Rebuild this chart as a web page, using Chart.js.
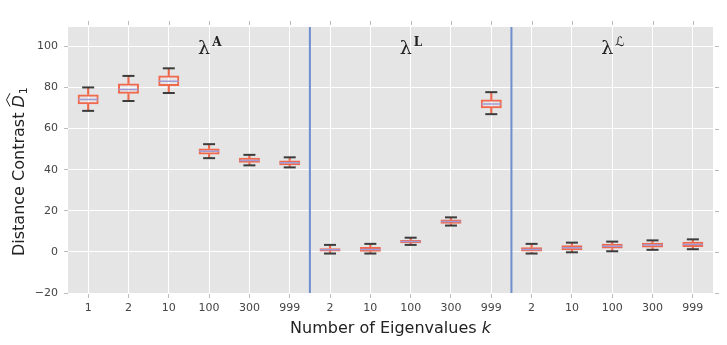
<!DOCTYPE html>
<html>
<head>
<meta charset="utf-8">
<script src="https://cdn.jsdelivr.net/npm/chart.js@4"></script>
<style>
  html, body { margin: 0; padding: 0; background: #fff; }
  #wrap { width: 727px; height: 345px; }
</style>
</head>
<body>
<div id="wrap"><canvas id="myChart" width="727" height="345"></canvas></div>
<script>
// categorias (número de autovalores k), três grupos
const categories = ['1', '2', '10', '100', '300', '999', '2', '10', '100', '300', '999', '2', '10', '100', '300', '999'];

// estatísticas dos boxplots
const mins    = [68.6, 73.4, 77.3, 45.6, 42.1, 41.1, -0.8, -0.8, 3.4, 12.8, 67.0, -0.8, -0.2, 0.3, 1.0, 1.3];
const q1s     = [71.8, 76.9, 80.7, 47.4, 43.4, 42.2,  0.2,  0.1, 4.2, 13.7, 69.9,  0.0,  0.8, 1.6, 2.1, 2.4];
const medians = [74.1, 79.0, 83.0, 48.9, 44.5, 43.4,  1.0,  1.2, 5.0, 14.8, 71.9,  1.2,  2.0, 2.8, 3.3, 3.6];
const q3s     = [76.6, 81.9, 85.8, 50.3, 45.8, 44.5,  1.8,  2.4, 5.8, 15.7, 74.1,  2.2,  3.2, 3.9, 4.5, 4.9];
const maxs    = [80.0, 85.6, 89.3, 52.4, 47.2, 46.0,  3.4,  3.9, 6.9, 16.8, 77.7,  3.9,  4.5, 5.0, 5.6, 6.1];

const yTicks = [-20, 0, 20, 40, 60, 80, 100];

// separadores entre grupos e rótulos dos grupos
const groupBreaks = [5.5, 10.5];
const groupCenters = [3, 8, 13];
const groupNames = ['A', 'L', '\u2112'];

Chart.defaults.font.family = 'DejaVu Sans';

const plotBg = {
  id: 'plotBg',
  beforeDraw(chart) {
    const {ctx, chartArea: a} = chart;
    ctx.save();
    ctx.fillStyle = '#E5E5E5';
    ctx.fillRect(a.left, a.top, a.right - a.left, a.bottom - a.top);
    ctx.restore();
  },
  beforeDatasetsDraw(chart) {
    const {ctx, chartArea: a, scales: {x}} = chart;
    ctx.save();
    ctx.strokeStyle = '#6F8ECE';
    ctx.lineWidth = 2;
    groupBreaks.forEach(b => {
      const px = x.getPixelForValue(b);
      ctx.beginPath();
      ctx.moveTo(px, a.top);
      ctx.lineTo(px, a.bottom);
      ctx.stroke();
    });
    ctx.restore();
  },
  afterDraw(chart) {
    const {ctx, chartArea: a, scales: {x, y}} = chart;
    ctx.save();
    // ticks de cima e da direita
    ctx.strokeStyle = '#BBBBBB';
    ctx.lineWidth = 1;
    categories.forEach((c, i) => {
      const px = Math.round(x.getPixelForValue(i)) + 0.5;
      ctx.beginPath(); ctx.moveTo(px, a.top - 6); ctx.lineTo(px, a.top - 2); ctx.stroke();
    });
    yTicks.forEach(v => {
      const py = Math.round(y.getPixelForValue(v)) + 0.5;
      ctx.beginPath(); ctx.moveTo(a.right + 2, py); ctx.lineTo(a.right + 6, py); ctx.stroke();
    });

    // rótulos lambda
    ctx.fillStyle = '#222';
    ctx.textBaseline = 'alphabetic';
    ctx.textAlign = 'left';
    groupCenters.forEach((g, i) => {
      const cx = x.getPixelForValue(g);
      ctx.font = '19px "DejaVu Serif"';
      ctx.fillText('\u03bb', cx - 11, 54);
      const lw = ctx.measureText('\u03bb').width;
      ctx.font = i === 2 ? '13px "DejaVu Sans"' : 'bold 12px "DejaVu Serif"';
      ctx.fillText(groupNames[i], cx - 11 + lw + 2, 46);
    });

    // título do eixo y
    ctx.save();
    ctx.translate(24, 256);
    ctx.rotate(-Math.PI / 2);
    ctx.fillStyle = '#222';
    ctx.font = '16px "DejaVu Sans"';
    const t1 = 'Distance Contrast ';
    ctx.fillText(t1, 0, 0);
    let w = ctx.measureText(t1).width;
    ctx.font = 'italic 16px "DejaVu Sans"';
    ctx.fillText('D', w, 0);
    const dw = ctx.measureText('D').width;
    ctx.strokeStyle = '#222';
    ctx.lineWidth = 1;
    ctx.beginPath();
    ctx.moveTo(w + 1, -14);
    ctx.lineTo(w + dw / 2 + 1.5, -17.5);
    ctx.lineTo(w + dw + 2, -14);
    ctx.stroke();
    ctx.font = '11px "DejaVu Sans"';
    ctx.fillText('1', w + dw + 1, 3);
    ctx.restore();

    // título do eixo x
    ctx.font = '16px "DejaVu Sans"';
    const t2 = 'Number of Eigenvalues ';
    const w2 = ctx.measureText(t2).width;
    ctx.font = 'italic 16px "DejaVu Sans"';
    const wk = ctx.measureText('k').width;
    const sx = (a.left + a.right) / 2 - (w2 + wk) / 2;
    ctx.font = '16px "DejaVu Sans"';
    ctx.fillText(t2, sx, 333);
    ctx.font = 'italic 16px "DejaVu Sans"';
    ctx.fillText('k', sx + w2, 333);
    ctx.restore();
  }
};

const ctx = document.getElementById('myChart').getContext('2d');
new Chart(ctx, {
  type: 'bar',
  data: {
    labels: categories,
    datasets: [
      { // mediana
        type: 'line',
        data: medians,
        showLine: false,
        pointStyle: 'line',
        pointRadius: 10,
        pointBorderColor: '#A29AD6',
        pointBorderWidth: 1.5,
        order: 0
      },
      { // caixa
        data: categories.map((c, i) => [q1s[i], q3s[i]]),
        backgroundColor: 'rgba(0,0,0,0)',
        borderColor: '#F0694D',
        borderWidth: 2,
        borderSkipped: false,
        barPercentage: 0.52,
        categoryPercentage: 1,
        grouped: false,
        order: 1
      },
      { // topo
        type: 'line',
        data: maxs,
        showLine: false,
        pointStyle: 'line',
        pointRadius: 6,
        pointBorderColor: '#3C3C3C',
        pointBorderWidth: 2,
        order: 2
      },
      { // base
        type: 'line',
        data: mins,
        showLine: false,
        pointStyle: 'line',
        pointRadius: 6,
        pointBorderColor: '#3C3C3C',
        pointBorderWidth: 2,
        order: 2
      },
      { // bigode superior
        data: categories.map((c, i) => [q3s[i], maxs[i]]),
        backgroundColor: '#EE6A4E',
        barThickness: 1.5,
        grouped: false,
        order: 3
      },
      { // bigode inferior
        data: categories.map((c, i) => [mins[i], q1s[i]]),
        backgroundColor: '#EE6A4E',
        barThickness: 1.5,
        grouped: false,
        order: 3
      }
    ]
  },
  options: {
    responsive: false,
    animation: false,
    events: [],
    layout: { padding: { left: 0, right: 14, top: 27, bottom: 0 } },
    scales: {
      x: {
        offset: true,
        grid: { color: '#FFFFFF', lineWidth: 1, offset: false, tickColor: '#BBBBBB', tickLength: 5 },
        border: { display: false },
        ticks: { color: '#444', font: { size: 11 }, padding: 4, maxRotation: 0, autoSkip: false },
        afterFit(s) { s.height = 52; }
      },
      y: {
        min: -20,
        max: 109.4,
        afterBuildTicks(s) { s.ticks = yTicks.map(v => ({ value: v })); },
        grid: { color: '#FFFFFF', lineWidth: 1, tickColor: '#BBBBBB', tickLength: 4 },
        border: { display: false },
        ticks: {
          color: '#444',
          font: { size: 11 },
          padding: 6,
          callback: v => v < 0 ? '\u2212' + Math.abs(v) : String(v)
        },
        afterFit(s) { s.width = 68; }
      }
    },
    plugins: {
      legend: { display: false },
      tooltip: { enabled: false },
      title: { display: false }
    }
  },
  plugins: [plotBg]
});
</script>
</body>
</html>
